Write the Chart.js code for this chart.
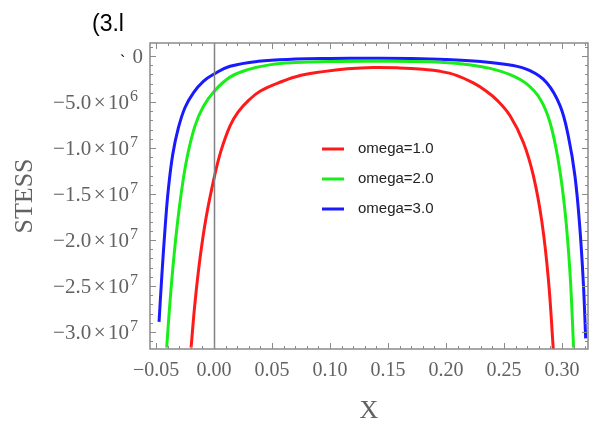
<!DOCTYPE html>
<html>
<head>
<meta charset="utf-8">
<script src="https://cdn.jsdelivr.net/npm/chart.js@4.4.1/dist/chart.umd.min.js"></script>
<style>
  html, body { margin: 0; padding: 0; background: #fff; }
  #wrap { width: 595px; height: 423px; }
</style>
</head>
<body>
<div id="wrap"><canvas id="grafico"></canvas></div>
<script>
// series labels
const etiquetas = ["omega=1.0", "omega=2.0", "omega=3.0"];
const colores = ["#ff1a1a", "#1aee1a", "#1a1aff"];

// omega = 1.0 (y in units of 1e6)
const rojoX = [-0.0198, -0.0164, -0.0121, -0.0069, 0, 0.0058, 0.0138, 0.0207, 0.03, 0.04, 0.058, 0.075, 0.094, 0.115, 0.137, 0.16, 0.18, 0.195, 0.209, 0.2235, 0.2345, 0.2437, 0.2552, 0.2667, 0.2753, 0.2825, 0.2882, 0.2925];
const rojoY = [-31.7, -26.8, -22.0, -17.6, -13.3, -10.4, -7.6, -6.1, -4.8, -3.8, -2.8, -2.1, -1.7, -1.4, -1.25, -1.3, -1.45, -1.67, -2.1, -2.93, -3.8, -4.77, -6.5, -9.4, -13.0, -17.9, -24.2, -31.9];

// omega = 2.0
const verdeX = [-0.0408, -0.0385, -0.0356, -0.0322, -0.0278, -0.023, -0.0164, -0.0092, 0, 0.0138, 0.029, 0.049, 0.07, 0.1, 0.135, 0.17, 0.195, 0.22, 0.238, 0.2552, 0.2695, 0.281, 0.2896, 0.2968, 0.3026, 0.3069, 0.31];
const verdeY = [-31.7, -27.6, -23.2, -18.9, -14.5, -10.9, -7.6, -5.5, -3.85, -2.3, -1.49, -0.94, -0.72, -0.6, -0.57, -0.6, -0.68, -0.95, -1.35, -2.04, -3.04, -4.65, -7.2, -11.4, -16.9, -23.6, -31.7];

// omega = 3.0
const azulX = [-0.0474, -0.0451, -0.0422, -0.0394, -0.0356, -0.0307, -0.025, -0.0178, -0.0092, 0, 0.0138, 0.038, 0.07, 0.1, 0.135, 0.17, 0.2, 0.23, 0.2552, 0.2724, 0.2868, 0.2983, 0.3054, 0.3112, 0.3155, 0.3184, 0.3204];
const azulY = [-28.9, -24.1, -18.7, -14.5, -10.7, -7.8, -5.6, -4.0, -2.75, -1.96, -1.12, -0.58, -0.34, -0.27, -0.25, -0.27, -0.37, -0.6, -0.98, -1.6, -2.9, -5.4, -8.7, -13.1, -18.9, -24.7, -30.7];

// tick labels
const ticksX = [-0.05, 0, 0.05, 0.1, 0.15, 0.2, 0.25, 0.3];
const etiquetasX = ["\u22120.05", "0.00", "0.05", "0.10", "0.15", "0.20", "0.25", "0.30"];
const ticksY = [0, -5e6, -1e7, -1.5e7, -2e7, -2.5e7, -3e7];
const mantisaY = ["0", "\u22125.0", "\u22121.0", "\u22121.5", "\u22122.0", "\u22122.5", "\u22123.0"];
const exponenteY = ["", "6", "7", "7", "7", "7", "7"];

const series = [[rojoX, rojoY], [verdeX, verdeY], [azulX, azulY]];

const SERIF = "'Liberation Serif', 'DejaVu Serif', serif";
const GRIS = "#626262";

// frame with inward ticks, axis line at x=0, y labels, legend and stray text
const marco = {
  id: "marco",
  afterDatasetsDraw(chart) {
    const ctx = chart.ctx;
    const a = chart.chartArea;
    const sx = chart.scales.x, sy = chart.scales.y;
    ctx.save();
    // vertical axis at x = 0
    ctx.strokeStyle = "#808080";
    ctx.lineWidth = 1.5;
    const x0 = Math.round(sx.getPixelForValue(0)) + 0.5;
    ctx.beginPath(); ctx.moveTo(x0, a.top); ctx.lineTo(x0, a.bottom); ctx.stroke();
    // frame
    ctx.strokeStyle = "#8a8a8a";
    ctx.lineWidth = 1.5;
    ctx.strokeRect(a.left, a.top, a.right - a.left, a.bottom - a.top);
    // ticks
    ctx.lineWidth = 1;
    ctx.beginPath();
    for (let i = -6; i <= 33; i++) {
      const v = i / 100;
      if (v < sx.min || v > sx.max) continue;
      const p = Math.round(sx.getPixelForValue(v)) + 0.5;
      const len = (i % 5 === 0) ? 6 : 3;
      ctx.moveTo(p, a.bottom); ctx.lineTo(p, a.bottom - len);
      ctx.moveTo(p, a.top); ctx.lineTo(p, a.top + len);
    }
    for (let i = 1; i >= -32; i--) {
      const v = i * 1e6;
      if (v < sy.min || v > sy.max) continue;
      const p = Math.round(sy.getPixelForValue(v)) + 0.5;
      const len = (i % 5 === 0) ? 6 : 3;
      ctx.moveTo(a.left, p); ctx.lineTo(a.left + len, p);
      ctx.moveTo(a.right, p); ctx.lineTo(a.right - len, p);
    }
    ctx.stroke();

    // y tick labels: mantissa x 10 with raised exponent
    ctx.fillStyle = GRIS;
    ctx.textBaseline = "alphabetic";
    ctx.textAlign = "left";
    ticksY.forEach((v, i) => {
      const p = sy.getPixelForValue(v);
      const base = p + 7;
      ctx.font = "21px " + SERIF;
      if (!exponenteY[i]) {
        const w = ctx.measureText(mantisaY[i]).width;
        ctx.fillText(mantisaY[i], 143 - w, base);
        return;
      }
      ctx.font = "16px " + SERIF;
      const we = ctx.measureText(exponenteY[i]).width;
      ctx.font = "21px " + SERIF;
      const wm = ctx.measureText(mantisaY[i]).width;
      const wx = ctx.measureText("\u00d7").width;
      const wd = ctx.measureText("10").width;
      let x = 138 - we - 1 - wd - 2.5 - wx - 2.5 - wm;
      ctx.fillText(mantisaY[i], x, base); x += wm + 2.5;
      ctx.fillText("\u00d7", x, base); x += wx + 2.5;
      ctx.fillText("10", x, base); x += wd + 1;
      ctx.font = "16px " + SERIF;
      ctx.fillText(exponenteY[i], x, base - 8);
    });

    // legend
    ctx.font = "15px 'Liberation Sans', Arial, sans-serif";
    ctx.textBaseline = "middle";
    chart.data.datasets.forEach((ds, i) => {
      const y = 149 + i * 30;
      ctx.strokeStyle = ds.borderColor;
      ctx.lineWidth = 3;
      ctx.beginPath(); ctx.moveTo(322, y); ctx.lineTo(344, y); ctx.stroke();
      ctx.fillStyle = "#222";
      ctx.fillText(ds.label, 358, y);
    });

    // stray text from the source image
    ctx.fillStyle = "#000";
    ctx.textBaseline = "alphabetic";
    ctx.font = "23px 'Liberation Sans', Arial, sans-serif";
    ctx.fillText("(3.l", 92, 31);
    ctx.font = "16px 'Liberation Sans', Arial, sans-serif";
    ctx.fillText("`", 120, 67);
    ctx.restore();
  }
};

new Chart(document.getElementById("grafico"), {
  type: "line",
  data: {
    datasets: series.map((s, i) => ({
      label: etiquetas[i],
      data: s[0].map((x, j) => ({ x: x, y: s[1][j] * 1e6 })),
      borderColor: colores[i],
      borderWidth: 3,
      pointRadius: 0,
      fill: false,
      tension: 0.4
    }))
  },
  options: {
    responsive: true,
    maintainAspectRatio: false,
    animation: false,
    layout: { padding: { left: 0, right: 7, top: 43, bottom: 0 } },
    plugins: {
      legend: { display: false },
      tooltip: { enabled: false }
    },
    scales: {
      x: {
        type: "linear",
        min: -0.0552,
        max: 0.3224,
        afterFit: s => { s.height = 74; },
        afterBuildTicks: s => { s.ticks = ticksX.map(v => ({ value: v })); },
        grid: { display: false },
        border: { display: false },
        ticks: {
          padding: 2,
          maxRotation: 0,
          autoSkip: false,
          color: GRIS,
          font: { family: SERIF, size: 20 },
          callback: (v, i) => etiquetasX[i]
        },
        title: {
          display: true,
          text: "X",
          color: GRIS,
          font: { family: SERIF, size: 26, lineHeight: 0.92 },
          padding: { top: 0, bottom: 0 }
        }
      },
      y: {
        type: "linear",
        min: -3.185e7,
        max: 1.41e6,
        afterFit: s => { s.width = 150; },
        afterBuildTicks: s => { s.ticks = ticksY.map(v => ({ value: v })); },
        grid: { display: false },
        border: { display: false },
        ticks: { display: false },
        title: {
          display: true,
          text: "STESS",
          color: GRIS,
          font: { family: SERIF, size: 26, lineHeight: 1 },
          padding: { top: 12, bottom: 0 }
        }
      }
    }
  },
  plugins: [marco]
});
</script>
</body>
</html>
